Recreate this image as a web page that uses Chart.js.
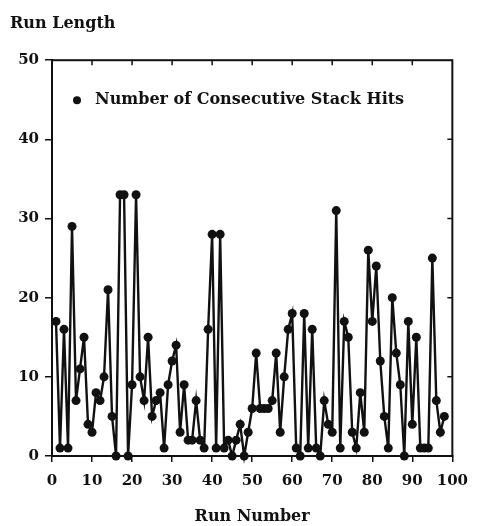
<!DOCTYPE html>
<html>
<head>
<meta charset="utf-8">
<title>Run Length</title>
<script src="https://cdn.jsdelivr.net/npm/chart.js@4.4.1/dist/chart.umd.min.js"></script>
<style>
  html, body { margin: 0; padding: 0; background: #fff; }
  #wrap { width: 478px; height: 526px; }
</style>
</head>
<body>
<div id="wrap"><canvas id="runChart" width="478" height="526"></canvas></div>
<script>
// Run-length plot: consecutive stack hits per run.

const SERIES_LABEL = "Number of Consecutive Stack Hits";
const Y_TITLE = "Run Length";
const X_TITLE = "Run Number";

const RUN_NUMBERS = [
   1,  2,  3,  4,  5,  6,  7,  8,  9, 10, 11, 12, 13, 14, 15, 16, 17, 18, 19, 20,
  21, 22, 23, 24, 25, 26, 27, 28, 29, 30, 31, 32, 33, 34, 35, 36, 37, 38, 39, 40,
  41, 42, 43, 44, 45, 46, 47, 48, 49, 50, 51, 52, 53, 54, 55, 56, 57, 58, 59, 60,
  61, 62, 63, 64, 65, 66, 67, 68, 69, 70, 71, 72, 73, 74, 75, 76, 77, 78, 79, 80,
  81, 82, 83, 84, 85, 86, 87, 88, 89, 90, 91, 92, 93, 94, 95, 96, 97, 98,
];

const STACK_HITS = [
  17,  1, 16,  1, 29,  7, 11, 15,  4,  3,  8,  7, 10, 21,  5,  0, 33, 33,  0,  9,
  33, 10,  7, 15,  5,  7,  8,  1,  9, 12, 14,  3,  9,  2,  2,  7,  2,  1, 16, 28,
   1, 28,  1,  2,  0,  2,  4,  0,  3,  6, 13,  6,  6,  6,  7, 13,  3, 10, 16, 18,
   1,  0, 18,  1, 16,  1,  0,  7,  4,  3, 31,  1, 17, 15,  3,  1,  8,  3, 26, 17,
  24, 12,  5,  1, 20, 13,  9,  0, 17,  4, 15,  1,  1,  1, 25,  7,  3,  5,
];

const X_TICKS = [0, 10, 20, 30, 40, 50, 60, 70, 80, 90, 100];
const Y_TICKS = [0, 10, 20, 30, 40, 50];

const FONT = "'DejaVu Serif', 'Liberation Serif', serif";
const INK = "#111";

// box frame, inward ticks on top/right, and the in-plot legend
const framePlugin = {
  id: "frame",
  afterDraw(chart) {
    const { ctx, chartArea: a, scales } = chart;
    ctx.save();
    ctx.strokeStyle = INK;
    ctx.lineWidth = 2;
    ctx.strokeRect(a.left, a.top, a.right - a.left, a.bottom - a.top);

    ctx.lineWidth = 1.5;
    ctx.beginPath();
    X_TICKS.slice(1, -1).forEach(v => {
      const px = scales.x.getPixelForValue(v);
      ctx.moveTo(px, a.top);
      ctx.lineTo(px, a.top + 5);
    });
    Y_TICKS.slice(1, -1).forEach(v => {
      const py = scales.y.getPixelForValue(v);
      ctx.moveTo(a.right, py);
      ctx.lineTo(a.right - 5, py);
    });
    ctx.stroke();

    // legend
    const lx = a.left + 25, ly = a.top + 40;
    ctx.fillStyle = INK;
    ctx.beginPath();
    ctx.arc(lx, ly, 4, 0, Math.PI * 2);
    ctx.fill();
    ctx.font = "bold 16px " + FONT;
    ctx.textBaseline = "middle";
    ctx.textAlign = "left";
    ctx.fillText(SERIES_LABEL, lx + 18, ly);
    ctx.restore();
  },
};

new Chart(document.getElementById("runChart"), {
  type: "line",
  data: {
    datasets: [{
      label: SERIES_LABEL,
      data: RUN_NUMBERS.map((r, i) => ({ x: r, y: STACK_HITS[i] })),
      borderColor: INK,
      borderWidth: 2.4,
      backgroundColor: INK,
      pointRadius: 4.5,
      pointBackgroundColor: INK,
      pointBorderWidth: 0,
      tension: 0,
      clip: false,
    }],
  },
  options: {
    responsive: false,
    animation: false,
    layout: { padding: { left: 10, right: 23, top: 0, bottom: 0 } },
    plugins: {
      legend: { display: false },
      tooltip: { enabled: false },
      title: {
        display: true,
        text: Y_TITLE,
        align: "start",
        color: INK,
        font: { family: FONT, size: 16, weight: "bold" },
        padding: { top: 14, bottom: 27 },
      },
    },
    scales: {
      x: {
        type: "linear",
        min: 0,
        max: 100,
        afterBuildTicks: s => { s.ticks = X_TICKS.map(v => ({ value: v })); },
        ticks: {
          color: INK,
          padding: 10,
          maxRotation: 0,
          font: { family: FONT, size: 15, weight: "bold" },
        },
        grid: { drawOnChartArea: false, tickLength: 6, color: INK, lineWidth: 1.5 },
        border: { display: true, color: INK, width: 2 },
        title: {
          display: true,
          text: X_TITLE,
          color: INK,
          padding: { top: 0, bottom: 0 },
          font: { family: FONT, size: 16, weight: "bold" },
        },
        afterFit: s => { s.height = 70; },
      },
      y: {
        min: 0,
        max: 50,
        afterBuildTicks: s => { s.ticks = Y_TICKS.map(v => ({ value: v })); },
        ticks: {
          color: INK,
          padding: 6,
          font: { family: FONT, size: 15, weight: "bold" },
        },
        grid: { drawOnChartArea: false, tickLength: 7, color: INK, lineWidth: 1.5 },
        border: { display: true, color: INK, width: 2 },
        afterFit: s => { s.width = 42; },
      },
    },
  },
  plugins: [framePlugin],
});
</script>
</body>
</html>
